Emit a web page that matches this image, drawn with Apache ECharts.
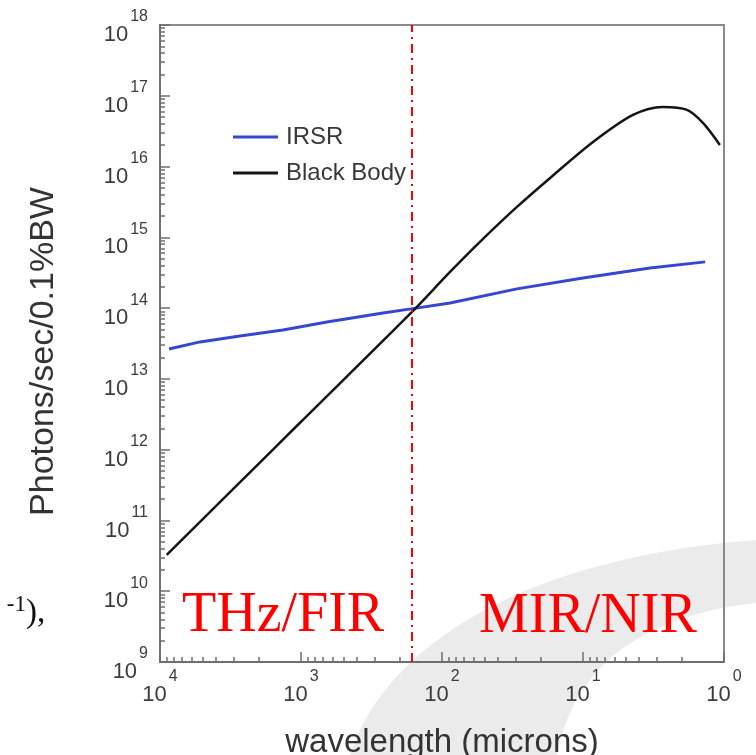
<!DOCTYPE html>
<html>
<head>
<meta charset="utf-8">
<script src="https://cdn.jsdelivr.net/npm/echarts@6/dist/echarts.min.js"></script>
<style>
html,body{margin:0;padding:0;background:#fff;}
#chart{width:756px;height:755px;}
</style>
</head>
<body>
<div id="chart"></div>
<script>
// ---- data ----
const irsrWavelength = [8630, 5200, 2710, 1343, 655, 262, 166, 87.7, 29.4, 10, 3.35, 1.36];
const irsrPhotons    = [2.65e13, 3.33e13, 4.05e13, 4.92e13, 6.38e13, 8.55e13, 9.75e13, 1.18e14, 1.87e14, 2.67e14, 3.70e14, 4.50e14];

const bbWavelength = [8960, 1581, 1016, 166, 87.7, 51.2, 29.4, 17.1, 8.49, 4.42, 2.71, 1.83, 1.41, 1.07];
const bbPhotons    = [3.27e10, 1.0e12, 2.4e12, 8.55e13, 3.24e14, 9.5e14, 2.69e15, 6.9e15, 2.22e16, 5.36e16, 6.95e16, 6.31e16, 4.13e16, 2.02e16];

const seriesNames = ['IRSR', 'Black Body'];
const dividerWavelength = 165;
const regionLabels = ['THz/FIR', 'MIR/NIR'];

const xTickExponents = [4, 3, 2, 1, 0];
const yTickExponents = [9, 10, 11, 12, 13, 14, 15, 16, 17, 18];

const xAxisTitle = 'wavelength (microns)';
const yAxisTitle = 'Photons/sec/0.1%BW';

// ---- helpers ----
function minorTicks(minExp, maxExp) {
  const out = [];
  for (let e = minExp; e < maxExp; e++) {
    for (let m = 2; m <= 9; m++) out.push(m * Math.pow(10, e));
  }
  return out;
}
function zip(a, b) { return a.map((v, i) => [v, b[i]]); }
function expLabel(v) {
  const e = Math.round(Math.log10(v));
  return '{b|10}{s|' + e + '}{h|\u200b}';
}
// decorative slide swoosh outline (cubic bezier sampled)
function bez(p0, p1, p2, p3, n) {
  const pts = [];
  for (let i = 0; i <= n; i++) {
    const t = i / n, u = 1 - t;
    pts.push([
      u*u*u*p0[0] + 3*u*u*t*p1[0] + 3*u*t*t*p2[0] + t*t*t*p3[0],
      u*u*u*p0[1] + 3*u*u*t*p1[1] + 3*u*t*t*p2[1] + t*t*t*p3[1]
    ]);
  }
  return pts;
}
const swoosh = bez([350,755],[380,660],[500,560],[756,540],40)
  .concat(bez([756,603],[650,615],[575,660],[557,755],40));

const FONT = '"Liberation Sans", Arial, Helvetica, sans-serif';
const SERIF = '"Liberation Serif", "Times New Roman", serif';
const AXIS_COLOR = '#6f6f6f';

const richLabel = {
  b: { fontSize: 22, fontFamily: FONT, color: '#3c3c3c', lineHeight: 22, verticalAlign: 'bottom' },
  s: { fontSize: 16, fontFamily: FONT, color: '#3c3c3c', lineHeight: 20, verticalAlign: 'top', padding: [0, 0, 0, 2] },
  h: { fontSize: 1, lineHeight: 37 }
};

const chart = echarts.init(document.getElementById('chart'), null, { renderer: 'canvas' });

const option = {
  animation: false,
  backgroundColor: '#ffffff',
  grid: {
    left: 160, right: 32, top: 25, bottom: 93,
    outerBoundsMode: 'none', containLabel: false,
    show: true, borderColor: '#8a8a8a', borderWidth: 2, backgroundColor: 'transparent'
  },
  legend: {
    orient: 'vertical', left: 228, top: 119,
    data: seriesNames.map(n => ({ name: n, icon: 'rect' })),
    itemWidth: 45, itemHeight: 3, itemGap: 10,
    textStyle: { fontSize: 24, fontFamily: FONT, color: '#383838', padding: [0, 0, 0, 3], lineHeight: 26 }
  },
  xAxis: [
    {
      type: 'log', logBase: 10, min: 1, max: 10000, inverse: true, splitNumber: 4,
      position: 'bottom',
      name: xAxisTitle, nameLocation: 'middle', nameGap: 64,
      nameTextStyle: { fontSize: 33, fontFamily: FONT, color: '#333' },
      axisLine: { show: true, lineStyle: { color: AXIS_COLOR, width: 2 } },
      axisTick: { show: true, inside: true, length: 10, lineStyle: { color: AXIS_COLOR, width: 1.5 } },
      axisLabel: { show: true, margin: 7, formatter: expLabel, rich: richLabel },
      splitLine: { show: false }
    },
    {
      type: 'log', logBase: 10, min: 1, max: 10000, inverse: true, position: 'bottom',
      axisLine: { show: false },
      axisTick: { show: true, inside: true, length: 5, lineStyle: { color: AXIS_COLOR, width: 1.5 },
                  customValues: minorTicks(0, 4) },
      axisLabel: { show: false },
      splitLine: { show: false }
    }
  ],
  yAxis: [
    {
      type: 'log', logBase: 10, min: 1e9, max: 1e18, splitNumber: 9,
      position: 'left',
      name: yAxisTitle, nameLocation: 'middle', nameGap: 99, nameRotate: 90,
      nameTextStyle: { fontSize: 34, fontFamily: FONT, color: '#333', padding: [0, 16, 0, 0] },
      axisLine: { show: true, lineStyle: { color: AXIS_COLOR, width: 2 } },
      axisTick: { show: true, inside: true, length: 10, lineStyle: { color: AXIS_COLOR, width: 1.5 } },
      axisLabel: { show: true, margin: 12, formatter: expLabel, rich: richLabel, padding: [5, 0, 0, 0] },
      splitLine: { show: false }
    },
    {
      type: 'log', logBase: 10, min: 1e9, max: 1e18, position: 'left',
      axisLine: { show: false },
      axisTick: { show: true, inside: true, length: 5, lineStyle: { color: AXIS_COLOR, width: 1.5 },
                  customValues: minorTicks(9, 18) },
      axisLabel: { show: false },
      splitLine: { show: false }
    }
  ],
  series: [
    {
      name: seriesNames[0], type: 'line', xAxisIndex: 0, yAxisIndex: 0,
      data: zip(irsrWavelength, irsrPhotons),
      symbol: 'none', smooth: false,
      lineStyle: { color: '#3646cf', width: 3 },
      itemStyle: { color: '#3646cf' },
      z: 3,
      markLine: {
        silent: true, symbol: 'none', label: { show: false },
        lineStyle: { color: '#ff0000', width: 2, type: [9, 5, 2, 5] },
        data: [{ xAxis: dividerWavelength }]
      }
    },
    {
      name: seriesNames[1], type: 'line', xAxisIndex: 0, yAxisIndex: 0,
      data: zip(bbWavelength, bbPhotons),
      symbol: 'none', smooth: 0.3,
      lineStyle: { color: '#141414', width: 2.5 },
      itemStyle: { color: '#141414' },
      z: 4
    }
  ],
  graphic: [
    {
      type: 'polygon', z: -10, silent: true,
      shape: { points: swoosh },
      style: { fill: '#ebebeb' }
    },
    {
      type: 'text', z: 10, x: 182, y: 616,
      style: { text: regionLabels[0], font: '56px ' + SERIF, fill: '#ff0000', verticalAlign: 'middle', align: 'left' }
    },
    {
      type: 'text', z: 10, x: 479, y: 617,
      style: { text: regionLabels[1], font: '56px ' + SERIF, fill: '#ff0000', verticalAlign: 'middle', align: 'left' }
    },
    {
      type: 'text', z: 10, x: 26, y: 605,
      style: { text: '-1', font: '23px ' + SERIF, fill: '#111', verticalAlign: 'middle', align: 'right' }
    },
    {
      type: 'text', z: 10, x: 26, y: 613,
      style: { text: '),', font: '33px ' + SERIF, fill: '#111', verticalAlign: 'middle', align: 'left' }
    }
  ]
};

chart.setOption(option);
</script>
</body>
</html>
